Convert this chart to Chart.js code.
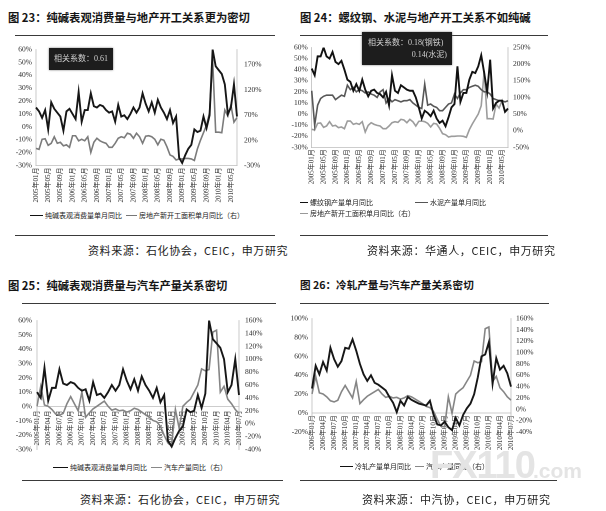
<!DOCTYPE html>
<html><head><meta charset="utf-8">
<script src="https://cdn.jsdelivr.net/npm/chart.js@4/dist/chart.umd.min.js"></script>
<style>
html,body{margin:0;padding:0;background:#fff;}
#page{position:relative;width:606px;height:511px;overflow:hidden;background:#fff;font-family:"Noto Sans CJK SC",sans-serif;color:#1a1a1a;}
canvas{position:absolute;}
.t{position:absolute;white-space:nowrap;font-weight:bold;font-size:11.3px;line-height:12px;color:#151515;}
.rule{position:absolute;height:0;border-top:1.5px solid #3a3a3a;}
.src{position:absolute;white-space:nowrap;font-size:11px;line-height:12px;letter-spacing:0.6px;color:#222;}
.leg{position:absolute;white-space:nowrap;font-size:7px;line-height:8px;color:#222;display:flex;align-items:center;}
.sw{display:inline-block;height:0;border-top:1.8px solid #111;margin-right:2px;}
.note{position:absolute;background:#1d1d1d;color:#cfcfcf;font-family:"Liberation Serif","Noto Sans CJK SC",serif;font-size:8px;line-height:11px;box-shadow:0 0 2px #777;}
.wm{position:absolute;white-space:nowrap;color:#e4e4e4;font-family:"Liberation Sans",sans-serif;font-weight:bold;}
</style></head>
<body><div id="page">
<div class="t" style="left:8px;top:11px;">图 23：纯碱表观消费量与地产开工关系更为密切</div>
<div class="t" style="left:300px;top:11px;">图 24：螺纹钢、水泥与地产开工关系不如纯碱</div>
<div class="t" style="left:8px;top:279px;">图 25：纯碱表观消费量与汽车产量关系密切</div>
<div class="t" style="left:300px;top:279px;font-size:10.6px;">图 26：冷轧产量与汽车产量关系密切</div>

<div class="rule" style="left:15px;top:34.5px;width:260px;"></div>
<div class="rule" style="left:300px;top:34.5px;width:248px;"></div>
<div class="rule" style="left:15px;top:234.5px;width:260px;"></div>
<div class="rule" style="left:300px;top:234.5px;width:248px;"></div>
<div class="rule" style="left:22px;top:303px;width:254px;"></div>
<div class="rule" style="left:300px;top:303px;width:249px;"></div>
<div class="rule" style="left:22px;top:480px;width:261px;"></div>
<div class="rule" style="left:300px;top:480px;width:257px;"></div>

<canvas id="c1" width="262" height="172" style="left:8px;top:38px;width:262px;height:172px;"></canvas>
<canvas id="c2" width="258" height="160" style="left:282px;top:38px;width:258px;height:160px;"></canvas>
<canvas id="c3" width="262" height="150" style="left:8px;top:310px;width:262px;height:150px;"></canvas>
<canvas id="c4" width="262" height="150" style="left:282px;top:309px;width:262px;height:150px;"></canvas>

<div class="note" style="left:49px;top:48px;width:64px;height:22px;line-height:22px;text-align:center;">相关系数：0.61</div>
<div class="note" style="left:362px;top:32px;width:90px;height:33px;">
  <div style="position:absolute;left:6px;top:5px;">相关系数：0.18(钢铁)</div>
  <div style="position:absolute;right:5px;top:17px;">0.14(水泥)</div>
</div>

<div class="leg" style="left:30px;top:211px;"><span class="sw" style="width:13px;border-color:#111;"></span>纯碱表观消费量单月同比<span class="sw" style="width:11px;border-color:#777;margin-left:4px;"></span>房地产新开工面积单月同比（右）</div>
<div class="leg" style="left:300px;top:198px;"><span class="sw" style="width:8px;border-color:#111;"></span>螺纹钢产量单月同比</div>
<div class="leg" style="left:415px;top:198px;"><span class="sw" style="width:13px;border-color:#555;"></span>水泥产量单月同比</div>
<div class="leg" style="left:300px;top:209px;"><span class="sw" style="width:8px;border-color:#999;"></span>房地产新开工面积单月同比（右）</div>
<div class="leg" style="left:53px;top:463px;"><span class="sw" style="width:15px;border-color:#111;"></span>纯碱表观消费量单月同比<span class="sw" style="width:11px;border-color:#888;margin-left:4px;"></span>汽车产量同比（右）</div>
<div class="leg" style="left:340px;top:462px;"><span class="sw" style="width:13px;border-color:#111;"></span>冷轧产量单月同比<span class="sw" style="width:9px;border-color:#888;margin-left:4px;"></span>汽车产量同比（右）</div>

<div class="wm" style="left:430px;top:444px;font-size:38px;letter-spacing:-1px;">FX110</div>
<div class="wm" style="left:533px;top:459px;font-size:21px;">.com</div>

<div class="src" style="left:88px;top:244px;">资料来源：石化协会，CEIC，申万研究</div>
<div class="src" style="left:367px;top:244px;">资料来源：华通人，CEIC，申万研究</div>
<div class="src" style="left:80px;top:493px;">资料来源：石化协会，CEIC，申万研究</div>
<div class="src" style="left:362px;top:493px;">资料来源：中汽协，CEIC，申万研究</div>
</div>
<script>
// ---- categories ----
const months0510 = [
 '2005年01月','2005年02月','2005年03月','2005年04月','2005年05月','2005年06月','2005年07月','2005年08月','2005年09月','2005年10月','2005年11月','2005年12月',
 '2006年01月','2006年02月','2006年03月','2006年04月','2006年05月','2006年06月','2006年07月','2006年08月','2006年09月','2006年10月','2006年11月','2006年12月',
 '2007年01月','2007年02月','2007年03月','2007年04月','2007年05月','2007年06月','2007年07月','2007年08月','2007年09月','2007年10月','2007年11月','2007年12月',
 '2008年01月','2008年02月','2008年03月','2008年04月','2008年05月','2008年06月','2008年07月','2008年08月','2008年09月','2008年10月','2008年11月','2008年12月',
 '2009年01月','2009年02月','2009年03月','2009年04月','2009年05月','2009年06月','2009年07月','2009年08月','2009年09月','2009年10月','2009年11月','2009年12月',
 '2010年01月','2010年02月','2010年03月','2010年04月','2010年05月','2010年06月','2010年07月'];
const months0610 = months0510.slice(12);

// ---- series (% YoY) ----
const sodaAsh = [
 15, 12, 7, 13, -2, 19, 14, 11, 8, -3, 12, 14,
 10, 6, 27, 4, 13, 13, 26, 16, 15, 17, 16, 13,
 11, 12, 4, 17, 8, 9, 6, 10, 15, 11, 15, 26,
 18, 12, 19, 11, 21, 15, 11, 6, 13, 3, 8, -24,
 -28, -22, -17, -14, -2, -4, -3, 8, -1, 9, 60, 47,
 44, 41, 33, 10, 15, 33, 8];
const realEstate = [
 4, 2, 22, 23, 10, 14, 27, 14, 16, 9, 11, 6,
 29, 29, 19, 22, 19, 27, -4, 16, 24, 19, 16, 14,
 6, 6, 14, 24, 27, 25, 34, 32, 24, 34, 27, 14,
 28, 29, 27, 22, 11, 22, 20, 7, -9, -12, -19, -17,
 -17, -16, -16, -17, -20, 3, 20, 35, 50, 75, 180, 36,
 36, 35, 80, 68, 90, 56, 65];
const rebar = [
 41, 35, 52, 52, 60, 52, 50, 56, 47, 45, 48, 40,
 31, 29, 21, 27, 21, 31, 22, 16, 21, 22, 19, 18,
 15, 20, 8, 35, 21, 19, 26, 24, 22, 21, 21, 15,
 6, -4, 3, 1, -2, 3, -4, -8, -6, -11, -3, 6,
 9, 43, 11, 19, 19, 31, 38, 37, 43, 53, 37, 20,
 49, 5, 10, 12, 12, 2, 5];
const cement = [
 21, -10, 8, 14, 16, 17, 17, 17, 13, 15, 17, 16,
 26, 22, 24, 20, 22, 21, 19, 20, 18, 17, 15, 20,
 22, 10, 14, 11, 13, 12, 11, 12, 12, 13, 10, 8,
 6, 5, 27, 8, 9, 7, 6, 3, 3, 6, 9, 10,
 18, 14, 19, 22, 22, 24, 25, 26, 25, 22, 20, 20,
 18, 14, 13, 12, 12, 11, 12];
const autoOutput = [
 27, 58, 29, 27, 22, 15, 13, 16, 31, 42, 31, 20,
 49, 10, 17, 23, 27, 31, 35, 27, 21, 23, 20, 21,
 18, 20, 24, 22, 18, 14, 10, 5, 3, -4, -18, -30,
 -31, 22, -7, 27, 33, 38, 49, 60, 85, 82, 84, 142,
 145, 49, 58, 38, 31, 22, 16];
const coldRolled = [
 26, 50, 41, 54, 45, 69, 57, 49, 55, 69, 68, 78,
 66, 52, 41, 34, 40, 32, 30, 27, 24, 17, 11, 1,
 13, 8, 17, 14, 12, 10, 9, 8, 13, -2, -12, -13,
 -9, -15, -18, -5, -13, -2, 5, 10, 20, 38, 60, 62,
 75, 31, 58, 46, 50, 42, 28];

// ---- tick labels ----
const ticksL30_60 = [-30, -20, -10, 0, 10, 20, 30, 40, 50, 60];
const ticksR1 = [-30, 20, 70, 120, 170];
const ticksR2 = [-50, 0, 50, 100, 150, 200, 250];
const ticksR34 = [-40, -20, 0, 20, 40, 60, 80, 100, 120, 140, 160];
const ticksL4 = [-20, 0, 20, 40, 60, 80, 100];

const tickFont = {family: "'Liberation Serif','Noto Sans CJK SC',serif", size: 7.5};
const xFont = {family: "'Liberation Serif','Noto Sans CJK SC',serif", size: 7};
const axisCol = '#bdbdbd';

function yAxis(pos, min, max, ticks, width, pad) {
  return {
    type: 'linear', position: pos, min: min, max: max,
    afterBuildTicks: s => { s.ticks = ticks.map(v => ({value: v})); },
    afterFit: s => { s.width = width; },
    grid: {display: false, drawTicks: false},
    border: {display: true, color: axisCol, width: 0.8},
    ticks: {autoSkip: false, padding: pad, color: '#2b2b2b', font: tickFont, callback: v => v + '%'}
  };
}
function xAxis(labels, every, pos, height, pad) {
  const a = {
    type: 'category', position: pos, offset: false,
    grid: {display: false, drawTicks: false},
    border: {display: true, color: axisCol, width: 0.8},
    ticks: {autoSkip: false, maxRotation: 90, minRotation: 90, padding: pad, color: '#2b2b2b', font: xFont,
      callback: (v, i) => (i % every === 0 ? labels[v] : null)}
  };
  if (height) a.afterFit = s => { s.height = height; };
  return a;
}
function line(data, color, width, axis) {
  return {data: data, borderColor: color, borderWidth: width, pointRadius: 0, tension: 0, fill: false, yAxisID: axis};
}
function make(id, labels, datasets, scales, padding) {
  new Chart(document.getElementById(id), {
    type: 'line',
    data: {labels: labels, datasets: datasets},
    options: {
      responsive: false, animation: false, devicePixelRatio: 2,
      layout: {padding: padding, autoPadding: false},
      plugins: {legend: {display: false}, tooltip: {enabled: false}},
      scales: scales
    }
  });
}

make('c1', months0510,
  [line(sodaAsh, '#161616', 1.9, 'y'), line(realEstate, '#7b7b7b', 1.6, 'y1')],
  {x: xAxis(months0510, 4, 'bottom', 44.5, 2),
   y: yAxis('left', -30, 60, ticksL30_60, 28, 4),
   y1: yAxis('right', -30, 200, ticksR1, 33, 7)},
  {top: 9.3, left: 0, right: 0, bottom: 0});

make('c2', months0510,
  [line(rebar, '#111111', 1.9, 'y'), line(cement, '#575757', 1.6, 'y'), line(realEstate, '#9c9c9c', 1.6, 'y1')],
  {x: xAxis(months0510, 4, 'bottom', 50.7, 2),
   y: yAxis('left', -30, 60, ticksL30_60, 29.7, 4),
   y1: yAxis('right', -50, 250, ticksR2, 32, 5)},
  {top: 9.3, left: 0, right: 0, bottom: 0});

make('c3', months0610,
  [line(sodaAsh.slice(12), '#161616', 1.9, 'y'), line(autoOutput, '#858585', 1.6, 'y1')],
  {x: xAxis(months0610, 3, {y: 0}, null, 4),
   y: yAxis('left', -30, 60, ticksL30_60, 29, 5),
   y1: yAxis('right', -40, 160, ticksR34, 31, 6)},
  {top: 9, left: 0, right: 0, bottom: 10});

make('c4', months0610,
  [line(coldRolled, '#161616', 1.9, 'y'), line(autoOutput, '#858585', 1.6, 'y1')],
  {x: xAxis(months0610, 3, {y: 0}, null, 2),
   y: yAxis('left', -20, 100, ticksL4, 30, 4),
   y1: yAxis('right', -40, 160, ticksR34, 33, 5)},
  {top: 9, left: 0, right: 0, bottom: 27});
</script>
</body></html>
